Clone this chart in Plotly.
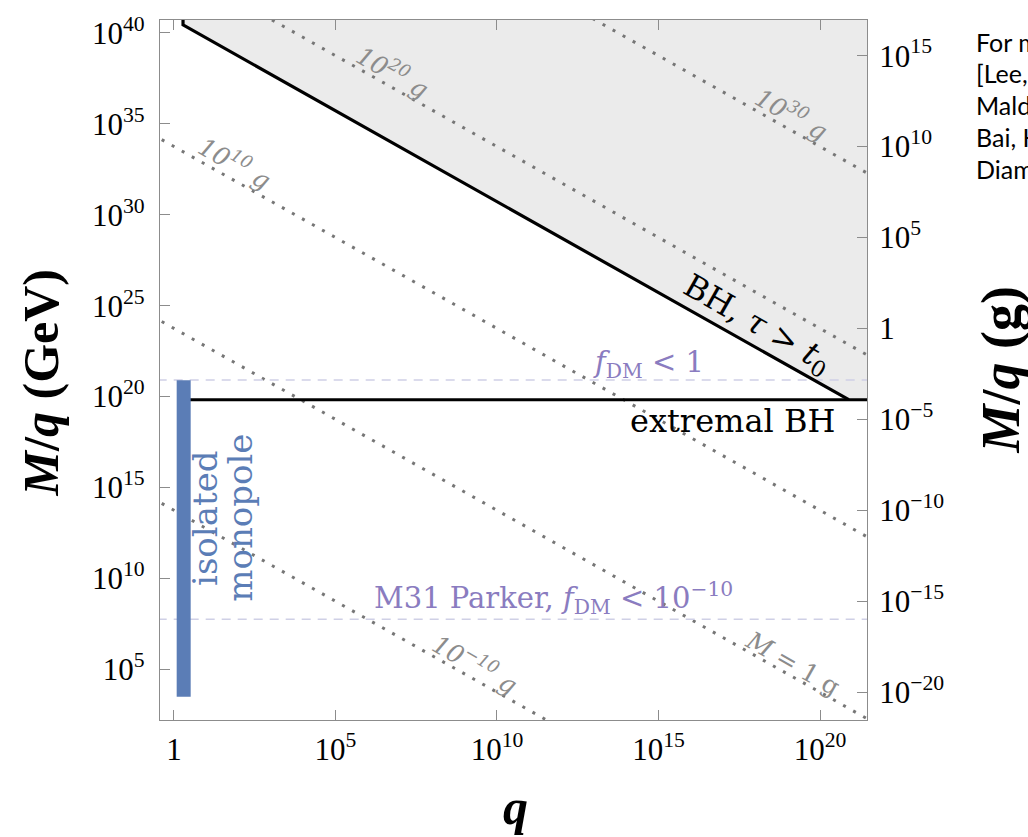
import plotly.graph_objects as go

# ---------------- data (log10 values) ----------------
GRAM_LOG_GEV = 23.75                      # 1 g = 10^23.75 GeV
mass_lines_log_g = [-10, 0, 10, 20, 30]   # iso-mass dotted lines (grams)
mass_label_text = ["<i>10<sup>−10</sup> g</i>", "<i>M</i> = 1 g", "<i>10<sup>10</sup> g</i>",
                   "<i>10<sup>20</sup> g</i>", "<i>10<sup>30</sup> g</i>"]
mass_label_pos = [(9.32, 5.32), (19.16, 5.32), (1.89, 32.87), (6.78, 37.88), (19.13, 35.59)]

bh_mass_log_gev = 40.72        # BH lifetime > t0 boundary (constant M)
bh_q_start_log = 0.28
extremal_Mq_log = 19.83        # extremal BH line
fdm1_Mq_log = 20.91            # f_DM < 1
m31_Mq_log = 7.76              # M31 Parker bound
monopole_q_log = 0.30
monopole_Mq_log = [3.5, 20.9]

x_ticks_log = [0, 5, 10, 15, 20]
x_tick_text = ["1", "10<sup>5</sup>", "10<sup>10</sup>", "10<sup>15</sup>", "10<sup>20</sup>"]
y_ticks_log = [5, 10, 15, 20, 25, 30, 35, 40]
y_tick_text = ["10<sup>%d</sup>" % v for v in y_ticks_log]
g_ticks_log = [15, 10, 5, 0, -5, -10, -15, -20]
g_tick_text = ["10<sup>15</sup>", "10<sup>10</sup>", "10<sup>5</sup>", "1", "10<sup>−5</sup>",
               "10<sup>−10</sup>", "10<sup>−15</sup>", "10<sup>−20</sup>"]

X_RANGE = [-0.433, 21.455]
Y_RANGE = [2.22, 40.71]
Q_SPAN = [-1.0, 22.5]

W, H = 1028, 837
L, R, T, B = 160, 161, 13, 117

SERIF = "DejaVu Serif"
GRAY = "#8c8c8c"
DOT_GRAY = "#767676"
BLUE = "#5b7db6"
PURPLE = "#8a7cc0"
DASH_COL = "#cfd0e6"


def p10(v):
    return 10.0 ** float(v)


def px_x(px):
    return (px - L) / (W - L - R)


def px_y(py):
    return (H - B - py) / (H - T - B)


fig = go.Figure()

# grey excluded region (BH lifetime / above extremal)
bh_q_end_log = bh_mass_log_gev - extremal_Mq_log
fill_x = [bh_q_start_log, bh_q_start_log, bh_q_end_log, Q_SPAN[1], Q_SPAN[1]]
fill_y = [42, bh_mass_log_gev - bh_q_start_log, extremal_Mq_log, extremal_Mq_log, 42]
fig.add_trace(go.Scatter(x=[p10(v) for v in fill_x], y=[p10(v) for v in fill_y],
                         fill="toself", fillcolor="#ebebeb", line=dict(width=0),
                         mode="lines", hoverinfo="skip", showlegend=False))

# iso-mass dotted lines
for mg in mass_lines_log_g:
    mlog = mg + GRAM_LOG_GEV
    fig.add_trace(go.Scatter(x=[p10(q) for q in Q_SPAN], y=[p10(mlog - q) for q in Q_SPAN],
                             mode="lines", line=dict(color=DOT_GRAY, width=3, dash="3px,8.5px"),
                             hoverinfo="skip", showlegend=False))

# dashed constraint lines
for lv in [fdm1_Mq_log, m31_Mq_log]:
    fig.add_trace(go.Scatter(x=[p10(q) for q in Q_SPAN], y=[p10(lv), p10(lv)], mode="lines",
                             line=dict(color=DASH_COL, width=1.5, dash="9px,7px"),
                             hoverinfo="skip", showlegend=False))

# black boundary lines
fig.add_trace(go.Scatter(x=[p10(bh_q_start_log), p10(bh_q_start_log), p10(bh_q_end_log)],
                         y=[p10(42), p10(bh_mass_log_gev - bh_q_start_log), p10(extremal_Mq_log)],
                         mode="lines", line=dict(color="black", width=3.2),
                         hoverinfo="skip", showlegend=False))
fig.add_trace(go.Scatter(x=[p10(monopole_q_log), p10(Q_SPAN[1])],
                         y=[p10(extremal_Mq_log), p10(extremal_Mq_log)],
                         mode="lines", line=dict(color="black", width=3.2),
                         hoverinfo="skip", showlegend=False))

# isolated monopole bar
fig.add_trace(go.Scatter(x=[p10(monopole_q_log)] * 2, y=[p10(v) for v in monopole_Mq_log],
                         mode="lines", line=dict(color=BLUE, width=14),
                         hoverinfo="skip", showlegend=False))

# dummy trace for the gram axis
fig.add_trace(go.Scatter(x=[p10(5)], y=[p10(0)], yaxis="y2", mode="markers",
                         marker=dict(opacity=0), hoverinfo="skip", showlegend=False))

ann = []
ANG = 29.6
for txt, (qx, qy) in zip(mass_label_text, mass_label_pos):
    ann.append(dict(x=qx, y=qy, text=txt, textangle=ANG,
                    font=dict(family=SERIF, size=25, color=GRAY)))

ann += [
    dict(x=18.05, y=23.94, text="BH, <i>τ</i> &gt; <i>t</i><sub>0</sub>", textangle=ANG,
         font=dict(family=SERIF, size=32, color="black")),
    dict(x=14.68, y=21.82, text="<i>f</i><sub>DM</sub> &lt; 1",
         font=dict(family=SERIF, size=29, color=PURPLE)),
    dict(x=17.28, y=18.66, text="extremal BH", font=dict(family=SERIF, size=32, color="black")),
    dict(x=11.76, y=8.92, text="M31 Parker, <i>f</i><sub>DM</sub> &lt; 10<sup>−10</sup>",
         font=dict(family=SERIF, size=29, color=PURPLE)),
    dict(x=0.96, y=13.33, text="isolated", textangle=-90,
         font=dict(family=SERIF, size=34, color=BLUE)),
    dict(x=2.04, y=13.33, text="monopole", textangle=-90,
         font=dict(family=SERIF, size=34, color=BLUE)),
]
for a in ann:
    a["xref"] = "x"
    a["yref"] = "y"

# axis titles
ann += [
    dict(x=px_x(41), y=px_y(379), xref="paper", yref="paper", textangle=-90,
         text="<b><i>M</i>/<i>q</i> (GeV)</b>", font=dict(family="Liberation Serif", size=50, color="black")),
    dict(x=px_x(515), y=px_y(808), xref="paper", yref="paper",
         text="<b><i>q</i></b>", font=dict(family="Liberation Serif", size=50, color="black")),
    dict(x=px_x(1001), y=px_y(366), xref="paper", yref="paper", textangle=-90,
         text="<b><i>M</i>/<i>q</i> (g)</b>", font=dict(family="Liberation Serif", size=54, color="black")),
]
for a in ann:
    a["showarrow"] = False
    a["xanchor"] = "center"
    a["yanchor"] = "middle"

# slide text on right (cut off)
side_lines = ["For more details see", "[Lee, Nair, Weinberg;", "Maldacena;",
              "Bai, Korwar, Orlofsky;", "Diamond, Kaplan]"]
side_y = [35, 67, 99, 131, 163]
for s, yy in zip(side_lines, side_y):
    ann.append(dict(x=px_x(974), y=px_y(yy), xref="paper", yref="paper", showarrow=False,
                    xanchor="left", yanchor="middle", text=s,
                    font=dict(family="Lato", size=25, color="black")))

tickfont = dict(family="Liberation Serif", size=31, color="black")
axis_common = dict(type="log", showgrid=False, zeroline=False, showline=True, linecolor=GRAY,
                   linewidth=1.2, ticks="inside", ticklen=10, tickcolor=GRAY, tickwidth=1.2,
                   tickfont=tickfont)

fig.update_layout(
    width=W, height=H, margin=dict(l=L, r=R, t=T, b=B),
    paper_bgcolor="white", plot_bgcolor="white", showlegend=False,
    xaxis=dict(range=X_RANGE, tickvals=[p10(v) for v in x_ticks_log], ticktext=x_tick_text,
               mirror="ticks", ticklabelstandoff=2, **axis_common),
    yaxis=dict(range=Y_RANGE, tickvals=[p10(v) for v in y_ticks_log], ticktext=y_tick_text,
               mirror=True, ticklabelstandoff=8, **axis_common),
    yaxis2=dict(range=[Y_RANGE[0] - GRAM_LOG_GEV, Y_RANGE[1] - GRAM_LOG_GEV], overlaying="y",
                side="right", tickvals=[p10(v) for v in g_ticks_log], ticktext=g_tick_text,
                ticklabelstandoff=5, **axis_common),
    annotations=ann,
)

fig.write_html("out.html")
